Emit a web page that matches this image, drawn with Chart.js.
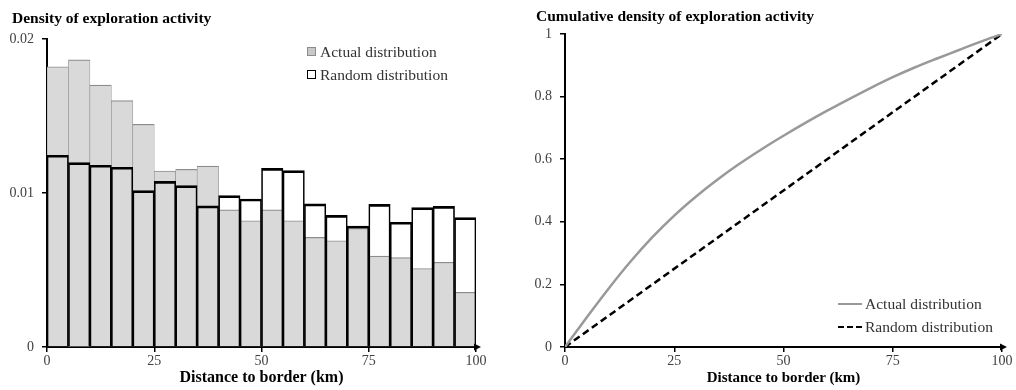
<!DOCTYPE html>
<html>
<head>
<meta charset="utf-8">
<script src="https://cdn.jsdelivr.net/npm/chart.js@4/dist/chart.umd.min.js"></script>
<style>
  body { margin: 0; background: #fff; font-family: "Liberation Serif", serif; }
  .panel { position: absolute; top: 0; height: 390px; }
  .title { position: absolute; font-weight: bold; font-size: 15.5px; color: #000; white-space: nowrap; }
  .legend { position: absolute; font-size: 15.5px; color: #333; white-space: nowrap; }
  .legend div { height: 23px; line-height: 23px; display: flex; align-items: center; }
  .box { display: inline-block; width: 7px; height: 7px; margin-right: 4px; }
  .ln { display: inline-block; width: 24px; height: 0; margin-right: 3px; }
</style>
</head>
<body>
<div class="panel" style="left:0;width:500px"><canvas id="densityChart"></canvas></div>
<div class="panel" style="left:510px;width:506px"><canvas id="cumulativeChart"></canvas></div>

<div class="title" style="left:12px;top:9px">Density of exploration activity</div>
<div class="title" style="left:536px;top:7px">Cumulative density of exploration activity</div>

<div class="legend" style="left:307px;top:40px">
  <div><span class="box" style="background:#c8c8c8;border:1px solid #8c8c8c"></span>Actual distribution</div>
  <div><span class="box" style="background:#fff;border:1.5px solid #000"></span>Random distribution</div>
</div>
<div class="legend" style="left:838px;top:292px">
  <div><span class="ln" style="border-top:2.5px solid #999"></span>Actual distribution</div>
  <div><span class="ln" style="border-top:2.5px dashed #000"></span>Random distribution</div>
</div>

<script>
// 5 km bins, centre of each bin
const binCentres = [2.5, 7.5, 12.5, 17.5, 22.5, 27.5, 32.5, 37.5, 42.5, 47.5,
  52.5, 57.5, 62.5, 67.5, 72.5, 77.5, 82.5, 87.5, 92.5, 97.5];
const actualDensity = [0.0182, 0.01864, 0.0170, 0.0160, 0.01446, 0.01143, 0.01154, 0.01175, 0.0089, 0.0082,
  0.0089, 0.0082, 0.00712, 0.0069, 0.0077, 0.0059, 0.0058, 0.0051, 0.0055, 0.00355];
const randomDensity = [0.01245, 0.01197, 0.0118, 0.01167, 0.01015, 0.01076, 0.01048, 0.00916, 0.00983, 0.00961,
  0.0116, 0.01145, 0.00929, 0.00855, 0.00786, 0.00926, 0.0081, 0.00905, 0.00913, 0.0084];

const cumDistance = [0, 5, 10, 15, 20, 25, 30, 35, 40, 45, 50, 55, 60, 65, 70, 75, 80, 85, 90, 95, 100];
const cumActual = [0, 0.095, 0.187, 0.273, 0.351, 0.42, 0.481, 0.536, 0.586, 0.632, 0.675,
  0.716, 0.755, 0.792, 0.828, 0.862, 0.893, 0.921, 0.948, 0.975, 1.0];
const cumRandomDistance = [0, 100];
const cumRandom = [0, 1];

const distanceTicks = ["0", "25", "50", "75", "100"];
const densityTicks = ["0", "0.01", "0.02"];
const cumulativeTicks = ["0", "0.2", "0.4", "0.6", "0.8", "1"];

const serif = "'Liberation Serif', 'Times New Roman', serif";

// little arrow head at the end of the x axis
const axisArrow = {
  id: "axisArrow",
  afterDraw(chart) {
    const { ctx, chartArea } = chart;
    ctx.save();
    ctx.fillStyle = "#000";
    ctx.beginPath();
    ctx.moveTo(chartArea.right + 5, chartArea.bottom);
    ctx.lineTo(chartArea.right - 2, chartArea.bottom - 3.5);
    ctx.lineTo(chartArea.right - 2, chartArea.bottom + 3.5);
    ctx.closePath();
    ctx.fill();
    ctx.restore();
  },
};

function xAxis(titleSize) {
  return {
    type: "linear",
    min: 0,
    max: 100,
    offset: false,
    afterFit: (scale) => { scale.height = 43; },
    border: { display: true, color: "#000", width: 2 },
    grid: { offset: false, drawOnChartArea: false, color: "#000", lineWidth: 1.5, tickLength: 5 },
    ticks: {
      stepSize: 25,
      padding: 1,
      color: "#404040",
      font: { family: serif, size: 14 },
      callback: (v) => distanceTicks[v / 25],
    },
    title: {
      display: true,
      text: "Distance to border (km)",
      color: "#000",
      font: { family: serif, size: titleSize, weight: "bold" },
      padding: { top: 0, bottom: 3 },
    },
  };
}

function yAxis(width, max, step, labels) {
  return {
    min: 0,
    max: max,
    afterFit: (scale) => { scale.width = width; },
    border: { display: true, color: "#000", width: 2 },
    grid: { drawOnChartArea: false, color: "#000", lineWidth: 1.5, tickLength: 5 },
    ticks: {
      stepSize: step,
      padding: 8,
      color: "#404040",
      font: { family: serif, size: 14 },
      callback: (v) => labels[Math.round(v / step)],
    },
  };
}

new Chart(document.getElementById("densityChart"), {
  type: "bar",
  data: {
    datasets: [
      {
        label: "Actual distribution",
        data: binCentres.map((x, i) => ({ x: x, y: actualDensity[i] })),
        backgroundColor: "#d9d9d9",
        borderColor: "#8c8c8c",
        borderWidth: { top: 1.2, left: 0.6, right: 0.6, bottom: 0 },
        grouped: false,
        order: 1,
      },
      {
        label: "Random distribution",
        data: binCentres.map((x, i) => ({ x: x, y: randomDensity[i] })),
        backgroundColor: "rgba(0,0,0,0)",
        borderColor: "#000",
        borderWidth: { top: 2, left: 1, right: 1, bottom: 0 },
        grouped: false,
        order: 0,
      },
    ],
  },
  options: {
    responsive: true,
    maintainAspectRatio: false,
    animation: false,
    barPercentage: 1,
    categoryPercentage: 1,
    layout: { padding: { top: 39, right: 24, left: 0, bottom: 0 } },
    plugins: { legend: { display: false }, tooltip: { enabled: false } },
    scales: {
      x: xAxis(16),
      y: yAxis(47, 0.02, 0.01, densityTicks),
    },
  },
  plugins: [axisArrow],
});

new Chart(document.getElementById("cumulativeChart"), {
  type: "line",
  data: {
    datasets: [
      {
        label: "Actual distribution",
        data: cumDistance.map((x, i) => ({ x: x, y: cumActual[i] })),
        borderColor: "#999",
        borderWidth: 2.5,
        pointRadius: 0,
        cubicInterpolationMode: "monotone",
      },
      {
        label: "Random distribution",
        data: cumRandomDistance.map((x, i) => ({ x: x, y: cumRandom[i] })),
        borderColor: "#000",
        borderWidth: 2.5,
        borderDash: [7, 4],
        pointRadius: 0,
      },
    ],
  },
  options: {
    responsive: true,
    maintainAspectRatio: false,
    animation: false,
    layout: { padding: { top: 34, right: 14, left: 0, bottom: 0 } },
    plugins: { legend: { display: false }, tooltip: { enabled: false } },
    scales: {
      x: xAxis(15),
      y: yAxis(55, 1, 0.2, cumulativeTicks),
    },
  },
  plugins: [axisArrow],
});
</script>
</body>
</html>
